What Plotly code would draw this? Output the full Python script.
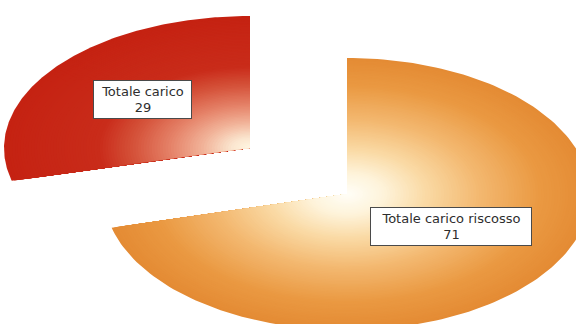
import numpy as np
import plotly.graph_objects as go

# ---- data ----
labels = ["Totale carico", "Totale carico riscosso"]
values = [29, 71]

# ---- geometry / style (layout constants) ----
W, H = 576, 324
axes_ab = [(246, 132), (243, 136)]   # ellipse semi-axes per slice (px)
apex = [(250, 148), (347, 194)]      # slice apex (after explosion)
label_pos = [(142.5, 99.5), (451, 226.5)]
label_box = [(97, 37), (160, 37)]
N_LAYERS = 90

red_stops = [(0.0, (255, 247, 228)), (0.08, (251, 230, 207)), (0.2, (241, 178, 152)),
             (0.33, (229, 130, 104)), (0.48, (213, 82, 58)), (0.62, (201, 44, 26)),
             (1.0, (197, 34, 18))]
orange_stops = [(0.0, (255, 254, 248)), (0.15, (254, 244, 220)), (0.33, (250, 218, 165)),
                (0.55, (243, 184, 112)), (0.8, (234, 153, 66)), (1.0, (228, 139, 52))]
stops = [red_stops, orange_stops]


def interp(st, s):
    for (s0, c0), (s1, c1) in zip(st[:-1], st[1:]):
        if s0 <= s <= s1:
            f = (s - s0) / (s1 - s0)
            c = [c0[i] + (c1[i] - c0[i]) * f for i in range(3)]
            return "rgb(%d,%d,%d)" % tuple(round(v) for v in c)
    return "rgb(%d,%d,%d)" % st[-1][1]


total = sum(values)
# slices run clockwise from 12 o'clock: "riscosso" first, then "Totale carico"
order = [1, 0]
ang = {}
a0 = 90.0
for i in order:
    sweep = values[i] / total * 360.0
    ang[i] = (a0, a0 - sweep)
    a0 -= sweep

fig = go.Figure()
for i in order:
    t = np.radians(np.linspace(ang[i][0], ang[i][1], 180))
    cx, cy = apex[i]
    A, B = axes_ab[i]
    for k in range(N_LAYERS):
        s = 1.0 - k / N_LAYERS
        xs = np.concatenate([[cx], cx + s * A * np.cos(t), [cx]])
        ys = np.concatenate([[cy], cy - s * B * np.sin(t), [cy]])
        fig.add_trace(go.Scatter(x=xs, y=ys, mode="lines", fill="toself",
                                 fillcolor=interp(stops[i], s),
                                 line=dict(width=0), hoverinfo="skip",
                                 showlegend=False))

for i in range(len(labels)):
    x, y = label_pos[i]
    w, h = label_box[i]
    fig.add_annotation(x=x, y=y, xref="x", yref="y", showarrow=False,
                       text=f"{labels[i]}<br>{values[i]}",
                       font=dict(family="DejaVu Sans", size=13, color="#2e2e2e"),
                       bgcolor="white", bordercolor="#4a4a4a", borderwidth=1,
                       borderpad=0, width=w, height=h, align="center",
                       valign="middle")

fig.update_layout(width=W, height=H, margin=dict(l=0, r=0, t=0, b=0),
                  paper_bgcolor="white", plot_bgcolor="white",
                  xaxis=dict(range=[0, W], visible=False, fixedrange=True),
                  yaxis=dict(range=[H, 0], visible=False, fixedrange=True),
                  showlegend=False)
fig.write_html("out.html")
